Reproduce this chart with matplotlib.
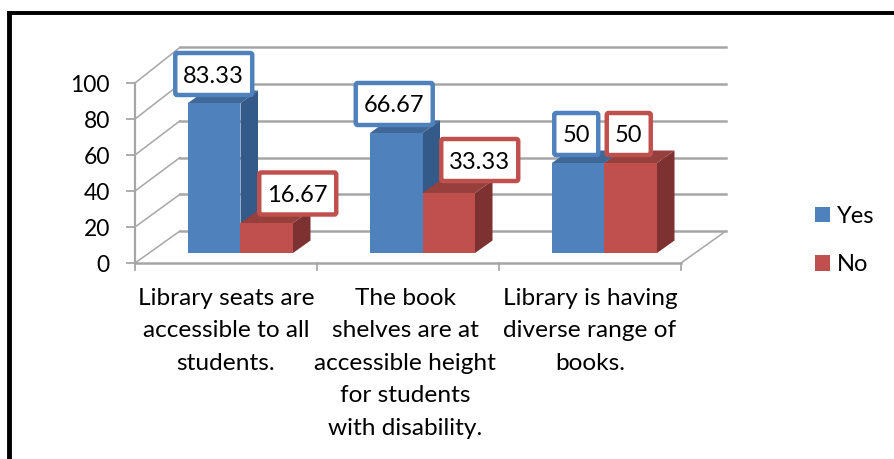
import numpy as np
import matplotlib
matplotlib.use('Agg')
import matplotlib.pyplot as plt
from matplotlib.patches import Polygon, FancyBboxPatch, Patch

categories = ['Library seats are\naccessible to all\nstudents.',
              'The book\nshelves are at\naccessible height\nfor students\nwith disability.',
              'Library is having\ndiverse range of\nbooks.']
yes_values = [83.33, 66.67, 50]
no_values = [16.67, 33.33, 50]
y_ticks = [0, 20, 40, 60, 80, 100]

BLUE = ['#4F81BD', '#3F6797', '#335A88']
RED = ['#C0504D', '#973F3D', '#7D3130']
GRID = '#A6A6A6'

W, H = 895, 459
# pixels per category and per value unit
CAT_PX = 182.0
VAL_PX = 1.8
X0, Y0 = 135.0, 263.0

plt.rcParams['font.family'] = ['Lato', 'DejaVu Sans']
fig = plt.figure(figsize=(W / 100, H / 100), dpi=100)
ax = fig.add_axes([0, 0, 1, 1])
ax.set_xlim(-X0 / CAT_PX, (W - X0) / CAT_PX)
ax.set_ylim(-(H - Y0) / VAL_PX, Y0 / VAL_PX)
ax.axis('off')


def dx(px):
    return px / CAT_PX


def dy(px):
    return px / VAL_PX


# walls and floor
WALL_DX, WALL_DY = dx(45), dy(32)
BACK_SCALE = 1.02
for v in y_ticks:
    back = v * BACK_SCALE + WALL_DY
    ax.plot([WALL_DX, 3 + WALL_DX], [back, back], color=GRID, lw=1.8, zorder=1)
    ax.plot([0, WALL_DX], [v, back], color=GRID, lw=1.1, zorder=1)
    ax.plot([-dx(8), 0], [v, v], color=GRID, lw=1.3, zorder=1)
ax.plot([0, 0], [0, 100], color=GRID, lw=1.6, zorder=1)
ax.plot([0, 3], [0, 0], color=GRID, lw=1.8, zorder=1)
ax.plot([3, 3 + WALL_DX], [0, WALL_DY], color=GRID, lw=1.1, zorder=1)
for i in range(4):
    ax.plot([i, i], [0, -dy(7)], color=GRID, lw=1.3, zorder=1)

# bars
BAR_W = 52.5 / CAT_PX
BAR_START = 53 / CAT_PX
BAR_BASE = dy(10)
DEPTH_X, DEPTH_Y = dx(17.5), dy(12.5)


def draw_bar(left, value, colors, z):
    right = left + BAR_W
    top = BAR_BASE + value
    ax.add_patch(Polygon([(right, BAR_BASE), (right + DEPTH_X, BAR_BASE + DEPTH_Y),
                          (right + DEPTH_X, top + DEPTH_Y), (right, top)],
                         fc=colors[2], ec='none', zorder=z))
    ax.add_patch(Polygon([(left, top), (left + DEPTH_X, top + DEPTH_Y),
                          (right + DEPTH_X, top + DEPTH_Y), (right, top)],
                         fc=colors[1], ec='none', zorder=z))
    ax.add_patch(Polygon([(left, BAR_BASE), (right, BAR_BASE), (right, top), (left, top)],
                         fc=colors[0], ec='none', zorder=z))


for i in range(3):
    draw_bar(i + BAR_START, yes_values[i], BLUE, 2 + i * 0.1)
    draw_bar(i + BAR_START + BAR_W, no_values[i], RED, 2.05 + i * 0.1)


# value labels in boxes
def value_box(x, y, value, color, half_w):
    half_h = dy(21)
    box = FancyBboxPatch((x - half_w, y - half_h), 2 * half_w, 2 * half_h,
                         boxstyle='round,pad=0,rounding_size=%f' % dx(2),
                         mutation_aspect=CAT_PX / VAL_PX,
                         fc='white', ec=color, lw=3.2, zorder=5)
    ax.add_patch(box)
    ax.text(x, y, '%g' % value, ha='center', va='center_baseline', fontsize=17,
            color='black', zorder=6)


yes_shift = [-0.5, -2, -2]
no_shift = [31, 31, -2]
no_lift = [29.5, 33, 29]
for i in range(3):
    xc = i + BAR_START + BAR_W / 2
    half = dx(38.5) if yes_values[i] != 50 else dx(22)
    value_box(xc + dx(yes_shift[i]), BAR_BASE + yes_values[i] + dy(29), yes_values[i], BLUE[0], half)
    value_box(xc + BAR_W + dx(no_shift[i]), BAR_BASE + no_values[i] + dy(no_lift[i]), no_values[i], RED[0], half)

# axis text
for v in y_ticks:
    ax.text(-dx(25), v, str(v), ha='right', va='center_baseline', fontsize=16.5)

label_x = [0.5, 1.485, 2.5]
for i, name in enumerate(categories):
    ax.text(label_x[i], -dy(25), name, ha='center', va='top', fontsize=17.6,
            linespacing=1.67, multialignment='center')

handles = [Patch(fc=BLUE[0], label='Yes'), Patch(fc=RED[0], label='No')]
ax.legend(handles=handles, loc='upper left', bbox_to_anchor=(808 / W, 1 - 199 / H),
          frameon=False, fontsize=17, handlelength=0.62, handleheight=0.62,
          handletextpad=0.3, labelspacing=1.15, borderpad=0.3, borderaxespad=0)

# page frame
ax.plot([dx(9 - X0)] * 2, [-(H - Y0) / VAL_PX, dy(Y0 - 13)], color='black', lw=3.5, zorder=7,
        solid_capstyle='projecting')
ax.plot([dx(9 - X0), dx(W - X0)], [dy(Y0 - 13)] * 2, color='black', lw=2.8, zorder=7)

fig.savefig('out.png', dpi=100)
